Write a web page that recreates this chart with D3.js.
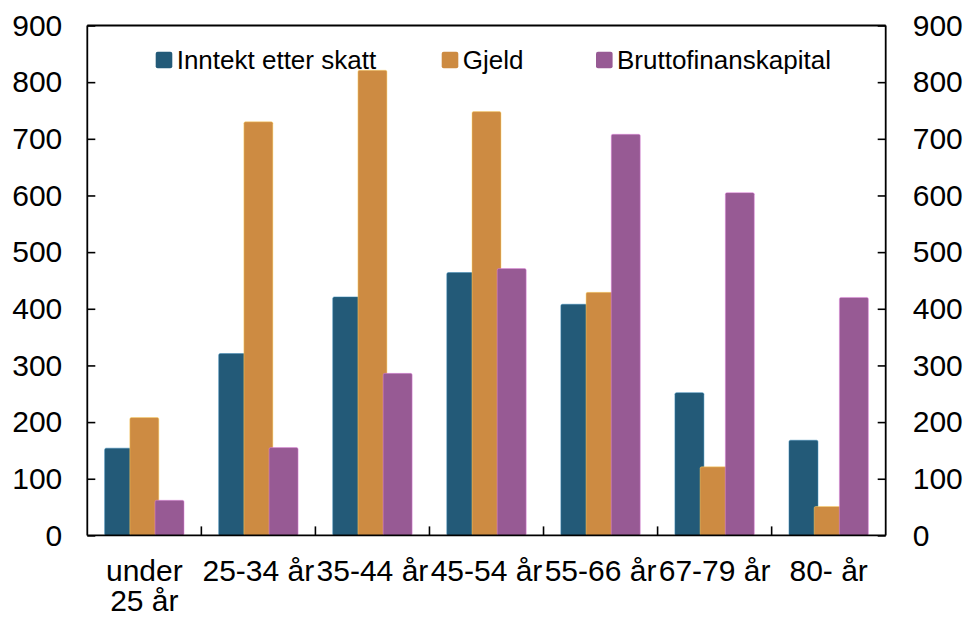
<!DOCTYPE html>
<html>
<head>
<meta charset="utf-8">
<script src="https://cdn.jsdelivr.net/npm/d3@7"></script>
<style>
  html, body { margin: 0; padding: 0; background: #fff; }
  svg { display: block; font-family: "Liberation Sans", Arial, sans-serif; }
</style>
</head>
<body>
<svg id="chart" width="966" height="617"></svg>
<script>
// Age groups along the x axis
const categories = ["under 25 år", "25-34 år", "35-44 år", "45-54 år", "55-66 år", "67-79 år", "80- år"];

// Series names and values (1000 kr)
const seriesNames = ["Inntekt etter skatt", "Gjeld", "Bruttofinanskapital"];
const inntekt = [154, 321, 421, 464, 408, 252, 168];
const gjeld = [208, 730, 821, 748, 429, 121, 51];
const finanskapital = [62, 155, 286, 471, 708, 605, 420];
const seriesColors = ["#235a78", "#cd8b42", "#975a94"];

// Axis ticks
const yTicks = [0, 100, 200, 300, 400, 500, 600, 700, 800, 900];

const seriesValues = [inntekt, gjeld, finanskapital];

const svg = d3.select("#chart");
const margin = { left: 87.3, right: 966 - 885.7, top: 25.5, bottom: 617 - 535.4 };
const W = 966, H = 617;

const x = d3.scaleBand()
  .domain(categories)
  .range([margin.left, W - margin.right])
  .paddingInner(0).paddingOuter(0);

const y = d3.scaleLinear()
  .domain([0, 900])
  .range([H - margin.bottom, margin.top]);

// Offsets of the three bars inside each group (bars overlap slightly)
const barStep = 25.2, barWidth = 29;
const xs = d3.scalePoint().domain(seriesNames).range([-barStep, barStep]);

// Bars
const groups = svg.append("g").selectAll("g")
  .data(seriesNames)
  .join("g")
  .attr("fill", (d, i) => seriesColors[i]);

groups.each(function (name, si) {
  const lighter = d3.color(seriesColors[si]).brighter(1.2).formatHex();
  d3.select(this).selectAll("rect")
    .data(categories.map((c, ci) => ({ c, v: seriesValues[si][ci] })))
    .join("rect")
    .attr("x", d => x(d.c) + x.bandwidth() / 2 + xs(name) - barWidth / 2)
    .attr("y", d => y(d.v))
    .attr("width", barWidth)
    .attr("height", d => y(0) - y(d.v))
    .attr("rx", 1.5)
    .attr("stroke", lighter)
    .attr("stroke-opacity", 0.6)
    .attr("stroke-width", 0.8);
});

// Top border of the plot area
svg.append("path")
  .attr("d", `M${margin.left},${margin.top}H${W - margin.right}`)
  .attr("stroke", "#000").attr("stroke-width", 1.8).attr("fill", "none");

// Left axis (ticks point inward)
const leftAxis = d3.axisLeft(y).tickValues(yTicks).tickSize(-8).tickPadding(25).tickFormat(d3.format("d"));
const gl = svg.append("g").attr("transform", `translate(${margin.left},0)`).call(leftAxis);

// Right axis (ticks point inward)
const rightAxis = d3.axisRight(y).tickValues(yTicks).tickSize(-8).tickPadding(27).tickFormat(d3.format("d"));
const gr = svg.append("g").attr("transform", `translate(${W - margin.right},0)`).call(rightAxis);

[gl, gr].forEach(g => {
  g.select(".domain").attr("stroke", "#000").attr("stroke-width", 1.8).attr("d",
    `M0,${y(900)}V${y(0)}`);
  g.selectAll(".tick line").attr("stroke", "#000").attr("stroke-width", 1.6);
  g.selectAll(".tick text")
    .attr("font-size", 30)
    .attr("font-family", "'Liberation Sans', Arial, sans-serif")
    .attr("fill", "#000");
});

// Bottom axis: ticks at category boundaries, labels centred under each group
const gb = svg.append("g").attr("transform", `translate(0,${y(0)})`);
gb.append("path")
  .attr("d", `M${margin.left},0H${W - margin.right}`)
  .attr("stroke", "#000").attr("stroke-width", 1.8);
gb.selectAll("line.sep")
  .data(categories.slice(1))
  .join("line")
  .attr("class", "sep")
  .attr("x1", d => x(d)).attr("x2", d => x(d))
  .attr("y1", 0).attr("y2", -9)
  .attr("stroke", "#000").attr("stroke-width", 1.6);

const labels = gb.selectAll("text.cat")
  .data(categories)
  .join("text")
  .attr("class", "cat")
  .attr("x", d => x(d) + x.bandwidth() / 2)
  .attr("y", 45.5)
  .attr("text-anchor", "middle")
  .attr("font-size", 30)
  .attr("fill", "#000")
  .text(d => d);

// Wrap labels that are wider than their band
labels.each(function (d) {
  const t = d3.select(this);
  const maxW = x.bandwidth() + 6;
  if (this.getComputedTextLength() <= maxW) return;
  const words = d.split(" ");
  const lines = [];
  let line = [];
  t.text(null);
  const probe = t.append("tspan");
  words.forEach(w => {
    line.push(w);
    probe.text(line.join(" "));
    if (probe.node().getComputedTextLength() > x.bandwidth() && line.length > 1) {
      line.pop();
      lines.push(line.join(" "));
      line = [w];
    }
  });
  lines.push(line.join(" "));
  probe.remove();
  const cx = t.attr("x");
  lines.forEach((l, i) => {
    t.append("tspan").attr("x", cx).attr("dy", i === 0 ? 0 : 30).text(l);
  });
});

// Legend
const legendX = [155.7, 441.7, 596];
const legend = svg.append("g");
seriesNames.forEach((name, i) => {
  legend.append("rect")
    .attr("x", legendX[i]).attr("y", 51.7)
    .attr("width", 16.6).attr("height", 16.6)
    .attr("rx", 2)
    .attr("fill", seriesColors[i]);
  legend.append("text")
    .attr("x", legendX[i] + 21).attr("y", 68.5)
    .attr("font-size", 26)
    .attr("fill", "#000")
    .text(name);
});
</script>
</body>
</html>
